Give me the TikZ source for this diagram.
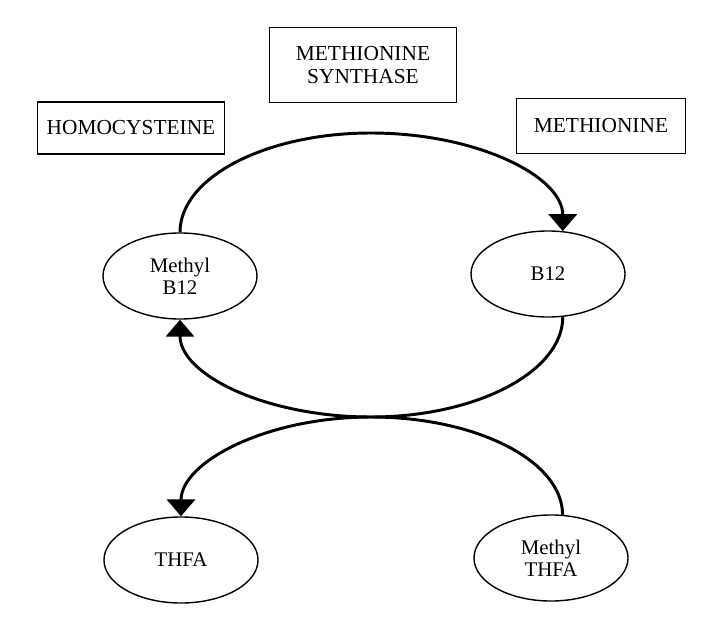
\documentclass[tikz,border=0pt]{standalone}
\usepackage{fontspec}
\setmainfont{Liberation Serif}
\usetikzlibrary{arrows.meta,shapes.geometric}
\tikzset{
  namebox/.style={draw,line width=0.9pt,align=center,inner sep=0pt,
    font=\fontsize{15.2}{15.8}\selectfont},
  cofac/.style={ellipse,draw,line width=1pt,minimum width=3.85cm,minimum height=2.15cm,
    inner sep=0pt,align=center,font=\fontsize{14.8}{15.6}\selectfont},
  flow/.style={line width=2.1pt,-{Triangle[width=20pt,length=12pt]}},  % cycle arrow
}

\begin{document}
\begin{tikzpicture}[x=0.025cm,y=-0.025cm]
  \useasboundingbox[fill=white] (0,0) rectangle (710,617);
  % labels
  \node[namebox,minimum width=4.675cm,minimum height=1.3cm] (homocys) at (131,128) {HOMOCYSTEINE};
  \node[namebox,minimum width=4.675cm,minimum height=1.875cm] (synth) at (363,65) {METHIONINE\\SYNTHASE};
  \node[namebox,minimum width=4.225cm,minimum height=1.375cm] (methio) at (601,126) {METHIONINE};
  % cofactors
  \node[cofac] (mb12) at (180,276) {Methyl\\B12};
  \node[cofac] (b12) at (548,274) {B12};
  \node[cofac] (thfa) at (181,560) {THFA};
  \node[cofac] (mthfa) at (551,558) {Methyl\\THFA};
  % top of the B12 loop and the point where both loops meet
  \coordinate (peak) at (371,133);
  \coordinate (touch) at (371,417);
  % cycles (half ellipses)
  \draw[flow] (mb12.north) .. controls +(0,-55) and +(-105,0) .. (peak)
    .. controls +(105,0) and +(0,-55) .. (b12.71);
  \draw[flow] (b12.-71) .. controls +(0,55) and +(105,0) .. (touch)
    .. controls +(-105,0) and +(0,55) .. (mb12.south);
  \draw[flow] (mthfa.75) .. controls +(0,-54) and +(105,0) .. (touch)
    .. controls +(-105,0) and +(0,-54) .. (thfa.north);
\end{tikzpicture}
\end{document}
